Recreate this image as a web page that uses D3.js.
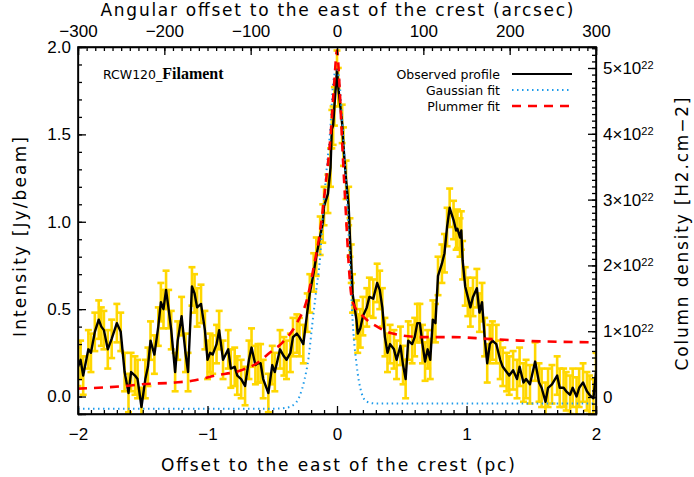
<!DOCTYPE html>
<html lang="en">
<head>
  <meta charset="UTF-8" />
  <title>RCW120 Filament profile</title>
  <script src="https://d3js.org/d3.v7.min.js"></script>
  <style>
    body { margin: 0; background: #fff; }
    svg { display: block; background: #fff; font-family: "DejaVu Sans", sans-serif; }
    .axis text { font-size: 17px; fill: #000; }
    .axis line, .axis path { stroke: #000; stroke-width: 1.3; }
    .legend text { font-size: 12.5px; }
  </style>
</head>
<body>
<svg width="694" height="477"></svg>
<script>
  // observed profile (pc, Jy/beam)
  const offsetPc = [-2.00,-1.98,-1.96,-1.92,-1.90,-1.87,-1.84,-1.82,-1.80,-1.77,-1.74,-1.70,-1.67,-1.64,-1.61,-1.59,-1.56,-1.54,-1.51,-1.48,
    -1.46,-1.44,-1.41,-1.38,-1.36,-1.34,-1.32,-1.30,-1.28,-1.25,-1.23,-1.20,-1.17,-1.15,-1.12,-1.10,-1.08,-1.05,-1.02,-1.00,
    -0.98,-0.96,-0.93,-0.91,-0.88,-0.84,-0.82,-0.79,-0.77,-0.74,-0.71,-0.68,-0.66,-0.63,-0.61,-0.59,-0.57,-0.53,-0.50,-0.48,
    -0.44,-0.41,-0.39,-0.36,-0.34,-0.31,-0.29,-0.26,-0.23,-0.21,-0.18,-0.16,-0.13,-0.11,-0.10,-0.07,-0.05,-0.04,-0.03,-0.02,
    0.00,0.01,0.04,0.05,0.07,0.09,0.10,0.11,0.12,0.15,0.16,0.18,0.20,0.23,0.25,0.28,0.31,0.33,0.35,0.37,
    0.39,0.41,0.44,0.46,0.49,0.51,0.53,0.55,0.58,0.60,0.62,0.64,0.66,0.68,0.70,0.72,0.74,0.76,0.78,0.81,
    0.83,0.85,0.87,0.90,0.92,0.93,0.95,0.96,0.97,0.99,1.01,1.03,1.05,1.08,1.10,1.12,1.14,1.16,1.18,1.20,
    1.23,1.26,1.28,1.31,1.33,1.36,1.39,1.41,1.44,1.46,1.49,1.53,1.56,1.58,1.61,1.63,1.66,1.70,1.72,1.75,
    1.77,1.80,1.82,1.85,1.87,1.90,1.93,1.95,1.98,2.00];
  const intensity = [0.17,0.21,0.12,0.27,0.25,0.37,0.44,0.40,0.38,0.27,0.33,0.42,0.37,0.14,0.02,0.14,0.12,0.10,-0.06,0.10,
    0.17,0.32,0.24,0.40,0.54,0.50,0.61,0.50,0.38,0.14,0.32,0.46,0.25,0.14,0.63,0.59,0.51,0.53,0.38,0.21,
    0.25,0.24,0.30,0.38,0.21,0.27,0.16,0.17,0.12,0.10,0.06,0.21,0.28,0.18,0.19,0.19,0.10,0.02,0.18,0.14,
    0.27,0.23,0.21,0.25,0.34,0.36,0.34,0.30,0.48,0.59,0.71,0.80,0.92,0.99,1.09,1.16,1.31,1.53,1.55,1.66,
    1.87,1.77,1.56,1.43,1.24,1.09,0.91,0.76,0.59,0.44,0.36,0.39,0.46,0.51,0.57,0.56,0.65,0.61,0.51,0.34,
    0.25,0.30,0.27,0.21,0.29,0.18,0.10,0.32,0.30,0.34,0.42,0.42,0.30,0.20,0.27,0.21,0.44,0.42,0.69,0.76,
    0.82,0.97,1.08,1.01,0.95,0.96,0.91,0.95,0.78,0.63,0.57,0.51,0.57,0.62,0.48,0.54,0.34,0.19,0.30,0.32,
    0.30,0.21,0.17,0.14,0.12,0.15,0.10,0.17,0.08,0.10,0.07,0.20,0.08,0.05,-0.03,0.05,0.07,0.12,0.05,0.05,
    0.03,0.01,0.05,0.00,0.05,0.08,0.03,0.01,-0.01,0.14];
  const errorHalf = 0.11;

  // Gaussian fit
  const gaussX = [-2.0,-0.50,-0.40,-0.34,-0.29,-0.25,-0.22,-0.19,-0.16,-0.13,-0.11,-0.08,-0.05,-0.03,0.00,0.02,0.05,0.08,0.10,0.12,0.15,0.19,0.23,0.30,2.0];
  const gaussY = [-0.07,-0.07,-0.065,-0.05,0.00,0.10,0.22,0.42,0.61,0.80,1.03,1.30,1.55,1.79,1.88,1.79,1.47,1.09,0.76,0.44,0.19,0.02,-0.03,-0.04,-0.04];

  // Plummer fit
  const plumX = [-2.0,-1.64,-1.51,-1.25,-1.12,-0.94,-0.74,-0.62,-0.52,-0.42,-0.31,-0.23,-0.18,-0.13,-0.09,-0.05,-0.02,0.00,0.02,0.04,0.07,0.09,0.12,0.20,0.31,0.43,0.65,0.90,1.16,1.41,2.0];
  const plumY = [0.045,0.06,0.07,0.08,0.09,0.12,0.15,0.19,0.25,0.31,0.42,0.56,0.74,0.95,1.20,1.49,1.81,1.98,1.77,1.45,1.03,0.76,0.54,0.46,0.40,0.36,0.34,0.34,0.33,0.32,0.31];

  const topTicks = [-300, -200, -100, 0, 100, 200, 300];
  const rightTicks = [0, 1, 2, 3, 4, 5];

  const svg = d3.select("svg");
  const L = 78, R = 596, T = 47, B = 414;

  const x = d3.scaleLinear().domain([-2, 2]).range([L, R]);
  const xTop = d3.scaleLinear().domain([-300, 300]).range([L, R]);
  const y = d3.scaleLinear().domain([-0.1, 2.0]).range([B, T]);
  const yR = d3.scaleLinear().domain([-0.258, 5.319]).range([B, T]);

  svg.append("defs").append("clipPath").attr("id", "clip")
    .append("rect").attr("x", L).attr("y", T).attr("width", R - L).attr("height", B - T);

  const plot = svg.append("g").attr("clip-path", "url(#clip)");
  const pts = offsetPc.map((d, i) => ({ x: d, v: intensity[i] }));

  // error bars
  const eb = plot.append("g").attr("stroke", "#FFD700").attr("stroke-width", 2.6);
  pts.forEach(p => {
    const x0 = x(p.x), y1 = y(p.v + errorHalf), y2 = y(p.v - errorHalf);
    eb.append("line").attr("x1", x0).attr("x2", x0).attr("y1", y1).attr("y2", y2);
    eb.append("line").attr("x1", x0 - 3.5).attr("x2", x0 + 3.5).attr("y1", y1).attr("y2", y1);
    eb.append("line").attr("x1", x0 - 3.5).attr("x2", x0 + 3.5).attr("y1", y2).attr("y2", y2);
  });

  const line = d3.line().x(d => x(d.x)).y(d => y(d.v));
  plot.append("path").datum(pts).attr("d", line)
    .attr("fill", "none").attr("stroke", "#000").attr("stroke-width", 2.4).attr("stroke-linejoin", "round");

  const smooth = d3.line().x(d => x(d[0])).y(d => y(d[1])).curve(d3.curveMonotoneX);
  plot.append("path").datum(gaussX.map((d, i) => [d, gaussY[i]])).attr("d", smooth)
    .attr("fill", "none").attr("stroke", "#1E9BEA").attr("stroke-width", 2)
    .attr("stroke-dasharray", "1.5,3.5");
  plot.append("path").datum(plumX.map((d, i) => [d, plumY[i]])).attr("d", smooth)
    .attr("fill", "none").attr("stroke", "#FF0000").attr("stroke-width", 2.6)
    .attr("stroke-dasharray", "9,7");

  // axes: minor ticks, then major ticks with labels
  function axisPair(gen, scale, major, minor, pos, fmt) {
    const g = svg.append("g").attr("class", "axis").attr("transform", pos);
    g.append("g").call(gen(scale).tickValues(minor).tickSize(-4).tickFormat(""))
      .call(s => s.select(".domain").remove());
    return g.append("g").call(gen(scale).tickValues(major).tickSize(-8).tickPadding(7).tickFormat(fmt));
  }
  const minorX = d3.range(-20, 21).map(d => d / 10);
  const minorTop = d3.range(-30, 31).map(d => d * 10);
  const minorY = d3.range(-1, 21).map(d => d / 10);
  const minorR = d3.range(-2, 54).map(d => d / 10);

  axisPair(d3.axisBottom, x, [-2, -1, 0, 1, 2], minorX, `translate(0,${B})`, d3.format("d"))
    .selectAll(".tick text").attr("dy", "1.1em");
  axisPair(d3.axisTop, xTop, topTicks, minorTop, `translate(0,${T})`, d3.format("d"))
    .selectAll(".tick text").attr("dy", "-0.2em");
  axisPair(d3.axisLeft, y, [0, 0.5, 1, 1.5, 2], minorY, `translate(${L},0)`, d3.format(".1f"));
  const rAx = axisPair(d3.axisRight, yR, rightTicks, minorR, `translate(${R},0)`, d => d);
  rAx.selectAll(".tick text").each(function(d) {
    const t = d3.select(this).text("");
    if (d === 0) { t.text("0"); return; }
    t.append("tspan").text(d + "\u00d710");
    t.append("tspan").attr("dy", "-0.45em").attr("font-size", "11px").text("22");
  });

  svg.append("rect").attr("x", L).attr("y", T).attr("width", R - L).attr("height", B - T)
    .attr("fill", "none").attr("stroke", "#000").attr("stroke-width", 1.6);

  // titles
  svg.append("text").attr("x", 337).attr("y", 16).attr("text-anchor", "middle")
    .attr("font-size", 17).attr("textLength", 473).text("Angular offset to the east of the crest (arcsec)");
  svg.append("text").attr("x", 338).attr("y", 471).attr("text-anchor", "middle")
    .attr("font-size", 17).attr("textLength", 354).text("Offset to the east of the crest (pc)");
  svg.append("text").attr("transform", "translate(26,237) rotate(-90)").attr("text-anchor", "middle")
    .attr("font-size", 17).attr("textLength", 200).text("Intensity [Jy/beam]");
  svg.append("text").attr("transform", "translate(688,234) rotate(-90)").attr("text-anchor", "middle")
    .attr("font-size", 17).attr("textLength", 273).text("Column density [H2.cm\u22122]");

  // label
  const lab = svg.append("text").attr("x", 103).attr("y", 79);
  lab.append("tspan").attr("font-size", 12.5).text("RCW120_");
  lab.append("tspan").attr("font-family", "Liberation Serif, serif").attr("font-weight", "bold")
    .attr("font-size", 16).text("Filament");

  // legend
  const legend = svg.append("g").attr("class", "legend");
  const items = [
    { name: "Observed profile", color: "#000", dash: null, w: 2.2, yy: 74 },
    { name: "Gaussian fit", color: "#1E9BEA", dash: "1.5,3.5", w: 2, yy: 90 },
    { name: "Plummer fit", color: "#FF0000", dash: "9,7", w: 2.6, yy: 106 }
  ];
  items.forEach(it => {
    legend.append("text").attr("x", 500).attr("y", it.yy + 4.5).attr("text-anchor", "end").text(it.name);
    legend.append("line").attr("x1", 512).attr("x2", 572).attr("y1", it.yy).attr("y2", it.yy)
      .attr("stroke", it.color).attr("stroke-width", it.w).attr("stroke-dasharray", it.dash);
  });
</script>
</body>
</html>
